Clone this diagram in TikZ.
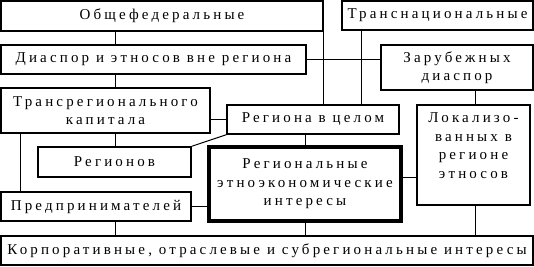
\documentclass[tikz,border=0pt]{standalone}
\usepackage{fontspec}
\setmainfont[LetterSpace=21]{Liberation Serif}
\newcommand{\lift}[2]{\raisebox{#1}[0pt][0pt]{\begin{tabular}{@{}c@{}}#2\end{tabular}}}
\begin{document}
\begin{tikzpicture}[x=1pt,y=-1pt,
  box/.style={draw,line width=1.4pt,inner sep=0pt,align=center,
    font=\fontsize{15}{18.5}\selectfont},
  heavy/.style={box,line width=3.8pt},
  link/.style={line width=1pt}]
\useasboundingbox (0,0) rectangle (534,266);
\node[box,minimum width=322,minimum height=30] (obsh) at (162,16) {Общефедеральные};
\node[box,minimum width=191,minimum height=29] (trans) at (437.5,15.5) {Транснациональные};
\node[box,minimum width=305,minimum height=29] (diasp) at (153.5,59.5) {Диаспор и этносов вне региона};
\node[box,minimum width=152,minimum height=45] (zarub) at (457,67.5) {Зарубежных\\диаспор};
\node[box,minimum width=209,minimum height=45] (transreg) at (105.5,110.5) {Трансрегионального\\капитала};
\node[box,minimum width=172,minimum height=29] (regcel) at (313,119.5) {Региона в целом};
\node[box,minimum width=153,minimum height=30] (regionov) at (114.5,162) {Регионов};
\node[heavy,minimum width=192,minimum height=74] (regional) at (305,184) {Региональные\\этноэкономические\\интересы};
\node[box,minimum width=113,minimum height=100] (lokal) at (473.5,155) {\lift{4.5pt}{Локализо-\\ванных в\\регионе\\этносов}};
\node[box,minimum width=190,minimum height=29] (predpr) at (96,206.5) {Предпринимателей};
\node[box,minimum width=532,minimum height=29] (korp) at (267,250.5) {Корпоративные, отраслевые и субрегиональные интересы};
\coordinate (xa) at (115,0);
\coordinate (xb) at (361,0);
\coordinate (xc) at (20,0);
\coordinate (xd) at (475,0);
\coordinate (ya) at (0,177);
\draw[link] (obsh.south -| xa) -- (diasp.north -| xa);
\draw[link] (diasp.south -| xa) -- (transreg.north -| xa);
\draw[link] (obsh.south east) -- (obsh.south east |- regcel.north);
\draw[link] (trans.south -| xb) -- (regcel.north -| xb);
\draw[link] (diasp.east) -- (diasp.east -| zarub.west);
\draw[link] (zarub.south -| xd) -- (lokal.north -| xd);
\draw[link] (regcel.west -| transreg.east) -- (regcel.west);
\draw[link] (transreg.south -| xa) -- (regionov.north -| xa);
\draw[link] (transreg.south -| xc) -- (predpr.north -| xc);
\draw[link] (regionov.north east) -- (regcel.south west);
\draw[link] (regional.north) -- (regional.north |- regcel.south);
\draw[link] (predpr.east) -- (predpr.east -| regional.west);
\draw[link] (regional.east |- ya) -- (lokal.west |- ya);
\draw[link] (predpr.south -| xa) -- (korp.north -| xa);
\draw[link] (regional.south) -- (regional.south |- korp.north);
\draw[link] (lokal.south -| xd) -- (korp.north -| xd);
\end{tikzpicture}
\end{document}
